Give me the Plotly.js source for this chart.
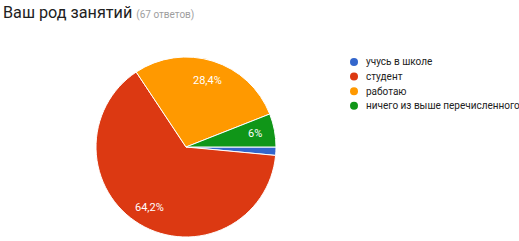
<!DOCTYPE html>
<html><head><meta charset="utf-8">
<script src="https://cdn.plot.ly/plotly-3.0.1.min.js"></script>
<style>html,body{margin:0;padding:0;background:#fff}</style>
</head><body><div id="chart" style="width:519px;height:241px"></div>
<script>
const categories = ['учусь в школе', 'студент', 'работаю', 'ничего из выше перечисленного'];
const counts = [1, 43, 19, 4];
const sliceLabels = ['', '64,2%', '28,4%', '6%'];
const colors = ['#3366cc', '#dc3912', '#ff9900', '#109618'];
const titleMain = 'Ваш род занятий';
const titleNote = '(67 ответов)';

const W = 519, H = 241;
const cx = 186, cy = 147, R = 90;
const legendX = 354, legendY0 = 62, legendStep = 14.6;
const font = 'Roboto, Arial, sans-serif';

const shapes = [], annotations = [];
categories.forEach((c, i) => {
  const ly = legendY0 + i * legendStep;
  shapes.push({type: 'circle', xref: 'paper', yref: 'paper',
    x0: (legendX - 4) / W, x1: (legendX + 4) / W,
    y0: 1 - (ly + 4) / H, y1: 1 - (ly - 4) / H,
    fillcolor: colors[i], line: {width: 0}});
  annotations.push({xref: 'paper', yref: 'paper', x: (legendX + 10) / W, y: 1 - ly / H,
    xanchor: 'left', yanchor: 'middle', showarrow: false, text: c,
    font: {family: font, size: 10, color: '#222'}});
});

// slice labels placed along each slice's mid-angle (clockwise from 3 o'clock)
const total = counts.reduce((a, b) => a + b, 0);
let acc = 0;
counts.forEach((v, i) => {
  const mid = (acc + v / 2) / total * 2 * Math.PI;
  acc += v;
  if (!sliceLabels[i]) return;
  const px = cx + 0.78 * R * Math.cos(mid);
  const py = cy + 0.78 * R * Math.sin(mid);
  annotations.push({xref: 'paper', yref: 'paper', x: px / W, y: 1 - py / H,
    xanchor: 'center', yanchor: 'middle', showarrow: false, text: sliceLabels[i],
    font: {family: font, size: 11, color: '#ffffff'}});
});

const data = [{
  type: 'pie', values: counts, labels: categories,
  textinfo: 'none', sort: false, direction: 'clockwise', rotation: 90,
  marker: {colors: colors, line: {color: '#ffffff', width: 1}},
  domain: {x: [(cx - R) / W, (cx + R) / W], y: [1 - (cy + R) / H, 1 - (cy - R) / H]},
  hoverinfo: 'label+percent', showlegend: false
}];

const layout = {
  width: W, height: H,
  margin: {l: 0, r: 0, t: 0, b: 0},
  paper_bgcolor: '#fff',
  showlegend: false,
  title: {
    text: titleMain + ' <span style="font-size:10px;color:#9e9e9e">' + titleNote + '</span>',
    x: 3 / W, xanchor: 'left', xref: 'paper', y: 1 - 12 / H, yanchor: 'middle', yref: 'container',
    font: {family: font, size: 16.2, color: '#212121'}
  },
  shapes: shapes, annotations: annotations
};
Plotly.newPlot('chart', data, layout, {displayModeBar: false, staticPlot: true});
</script></body></html>
